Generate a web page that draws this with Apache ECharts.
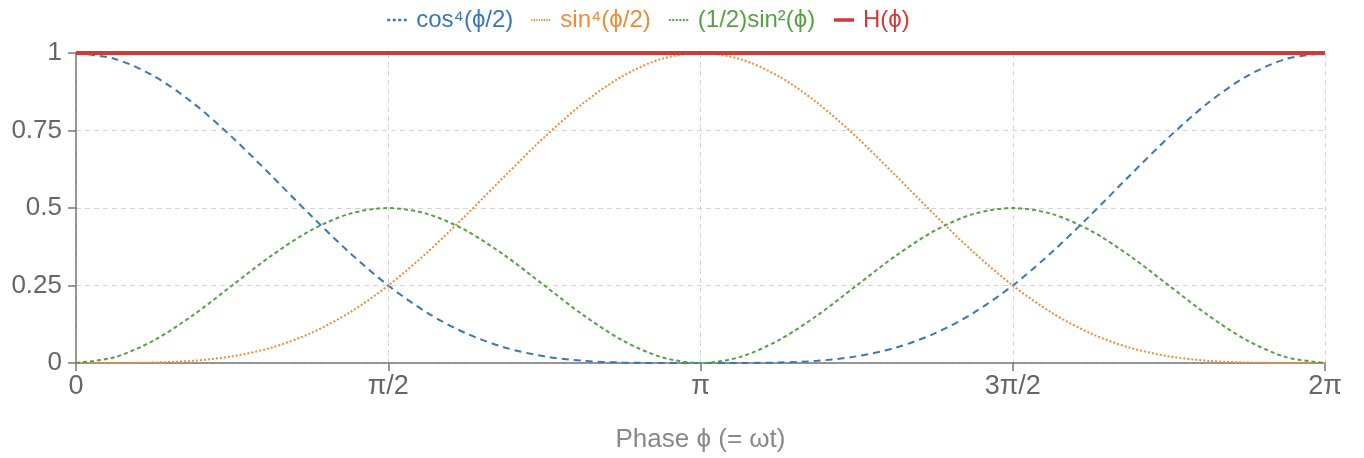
<!DOCTYPE html>
<html><head><meta charset="utf-8">
<script src="https://cdn.jsdelivr.net/npm/echarts@6/dist/echarts.min.js"></script>
<style>html,body{margin:0;padding:0;background:#fff}#c{width:1364px;height:458px}</style>
</head><body><div id="c"></div>
<script>
// x positions in units of π
const phaseX = [0,0.0625,0.125,0.1875,0.25,0.3125,0.375,0.4375,0.5,0.5625,0.625,0.6875,0.75,0.8125,0.875,0.9375,1,
  1.0625,1.125,1.1875,1.25,1.3125,1.375,1.4375,1.5,1.5625,1.625,1.6875,1.75,1.8125,1.875,1.9375,2];
const cos4 = [1,0.9809,0.9253,0.8386,0.7286,0.6050,0.4780,0.3571,0.25,0.1620,0.0953,0.0494,0.0215,0.0071,0.0015,0.0001,0,
  0.0001,0.0015,0.0071,0.0215,0.0494,0.0953,0.1620,0.25,0.3571,0.4780,0.6050,0.7286,0.8386,0.9253,0.9809,1];
const sin4 = [0,0.0001,0.0015,0.0071,0.0215,0.0494,0.0953,0.1620,0.25,0.3571,0.4780,0.6050,0.7286,0.8386,0.9253,0.9809,1,
  0.9809,0.9253,0.8386,0.7286,0.6050,0.4780,0.3571,0.25,0.1620,0.0953,0.0494,0.0215,0.0071,0.0015,0.0001,0];
const halfSin2 = [0,0.0190,0.0732,0.1543,0.25,0.3457,0.4268,0.4810,0.5,0.4810,0.4268,0.3457,0.25,0.1543,0.0732,0.0190,0,
  0.0190,0.0732,0.1543,0.25,0.3457,0.4268,0.4810,0.5,0.4810,0.4268,0.3457,0.25,0.1543,0.0732,0.0190,0];
const hLine = [1,1];
const hX = [0,2];
const xTickLabels = {0:'0',0.5:'π/2',1:'π',1.5:'3π/2',2:'2π'};
const yTickLabels = {0:'0',0.25:'0.25',0.5:'0.5',0.75:'0.75',1:'1'};
const seriesNames = ['cos⁴(ϕ/2)','sin⁴(ϕ/2)','(1/2)sin²(ϕ)','H(ϕ)'];
const colors = ['#3a77b7','#f28a35','#55a145','#d03b37'];
const legendDash = [[3, 2.5], [1.3, 1.2], [2, 1.5], 'solid'];
const legendWidth = [2.5, 2, 2, 3.5];

const pairs = (xs, ys) => xs.map((x, i) => [x, ys[i]]);
const font = '"Liberation Sans", Arial, sans-serif';
const chart = echarts.init(document.getElementById('c'));
chart.setOption({
  animation: false,
  color: colors,
  textStyle: {fontFamily: font},
  legend: {
    top: 3, left: 381, itemWidth: 20, itemHeight: 10, itemGap: 17,
    itemStyle: {opacity: 0},
    textStyle: {fontSize: 24, fontFamily: font, padding: [0, 0, 0, 4]},
    data: seriesNames.map((n, i) => ({name: n, textStyle: {color: colors[i]},
      lineStyle: {type: legendDash[i], width: legendWidth[i]}}))
  },
  grid: {left: 76, right: 39, top: 53, bottom: 92},
  xAxis: {
    type: 'value', min: 0, max: 2, interval: 0.5,
    name: 'Phase ϕ (= ωt)', nameLocation: 'middle', nameGap: 64,
    nameTextStyle: {fontSize: 26, color: '#888', fontFamily: font},
    axisLine: {lineStyle: {color: '#777', width: 1.5}},
    axisTick: {show: true, length: 8, lineStyle: {color: '#777', width: 1.5}},
    axisLabel: {fontSize: 27, color: '#666', margin: 10, formatter: v => xTickLabels[v] ?? ''},
    splitLine: {show: true, lineStyle: {type: [5, 4], color: '#d4d4d4', width: 1}}
  },
  yAxis: {
    type: 'value', min: 0, max: 1, interval: 0.25,
    axisLine: {show: true, lineStyle: {color: '#777', width: 1.5}},
    axisTick: {show: true, length: 8, lineStyle: {color: '#777', width: 1.5}},
    axisLabel: {fontSize: 26, color: '#666', margin: 14, formatter: v => yTickLabels[v] ?? ''},
    splitLine: {show: true, lineStyle: {type: [5, 4], color: '#d4d4d4', width: 1}}
  },
  series: [
    {name: seriesNames[0], type: 'line', data: pairs(phaseX, cos4), smooth: 0.3, symbol: 'none',
     lineStyle: {width: 2, type: [7, 5]}},
    {name: seriesNames[1], type: 'line', data: pairs(phaseX, sin4), smooth: 0.3, symbol: 'none',
     lineStyle: {width: 2, type: [2, 2]}},
    {name: seriesNames[2], type: 'line', data: pairs(phaseX, halfSin2), smooth: 0.3, symbol: 'none',
     lineStyle: {width: 2, type: [4, 3]}},
    {name: seriesNames[3], type: 'line', data: pairs(hX, hLine), symbol: 'none', z: 5,
     lineStyle: {width: 4}}
  ]
});
</script></body></html>
